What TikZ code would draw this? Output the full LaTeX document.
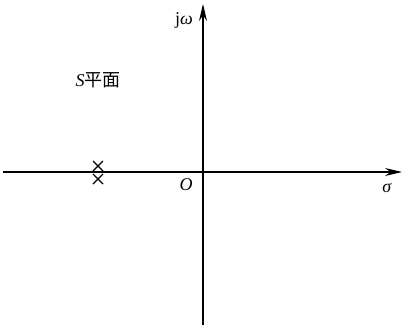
\documentclass[tikz,border=0pt]{standalone}
\usepackage{fontspec}
\setmainfont{Liberation Serif}
\newfontfamily\cjk{Noto Sans CJK SC}
\usetikzlibrary{arrows.meta}
\begin{document}
\begin{tikzpicture}[x=1pt,y=1pt,
        axis/.style={line width=1.2pt,-{Stealth[length=17pt,width=8pt]}},
        pole/.style={line width=1.1pt},
        lbl/.style={font=\fontsize{18}{20}\selectfont,inner sep=0pt}]
        \useasboundingbox (0,0) rectangle (402,325);
        % axes
        \coordinate (xl) at (3,153);
        \coordinate (xr) at (402,153);
        \coordinate (yb) at (203,0);
        \coordinate (yt) at (203,321);
        \draw[axis] (xl) -- (xr);
        \draw[axis] (yb) -- (yt);
        % labels
        \node[lbl] (jw) at (184,305) {j\textit{ω}};
        \node[lbl] (sig) at (387,137) {\textit{σ}};
        \node[lbl] (org) at (186,140) {\textit{O}};
        \node[lbl] (plane) at (98,245) {\textit{S}{\cjk 平面}};
        % double pole
        \foreach \y in {159,146} {
            \draw[pole] (93,\y-5) -- (103,\y+5);
            \draw[pole] (93,\y+5) -- (103,\y-5);
        }
    \end{tikzpicture}
\end{document}
